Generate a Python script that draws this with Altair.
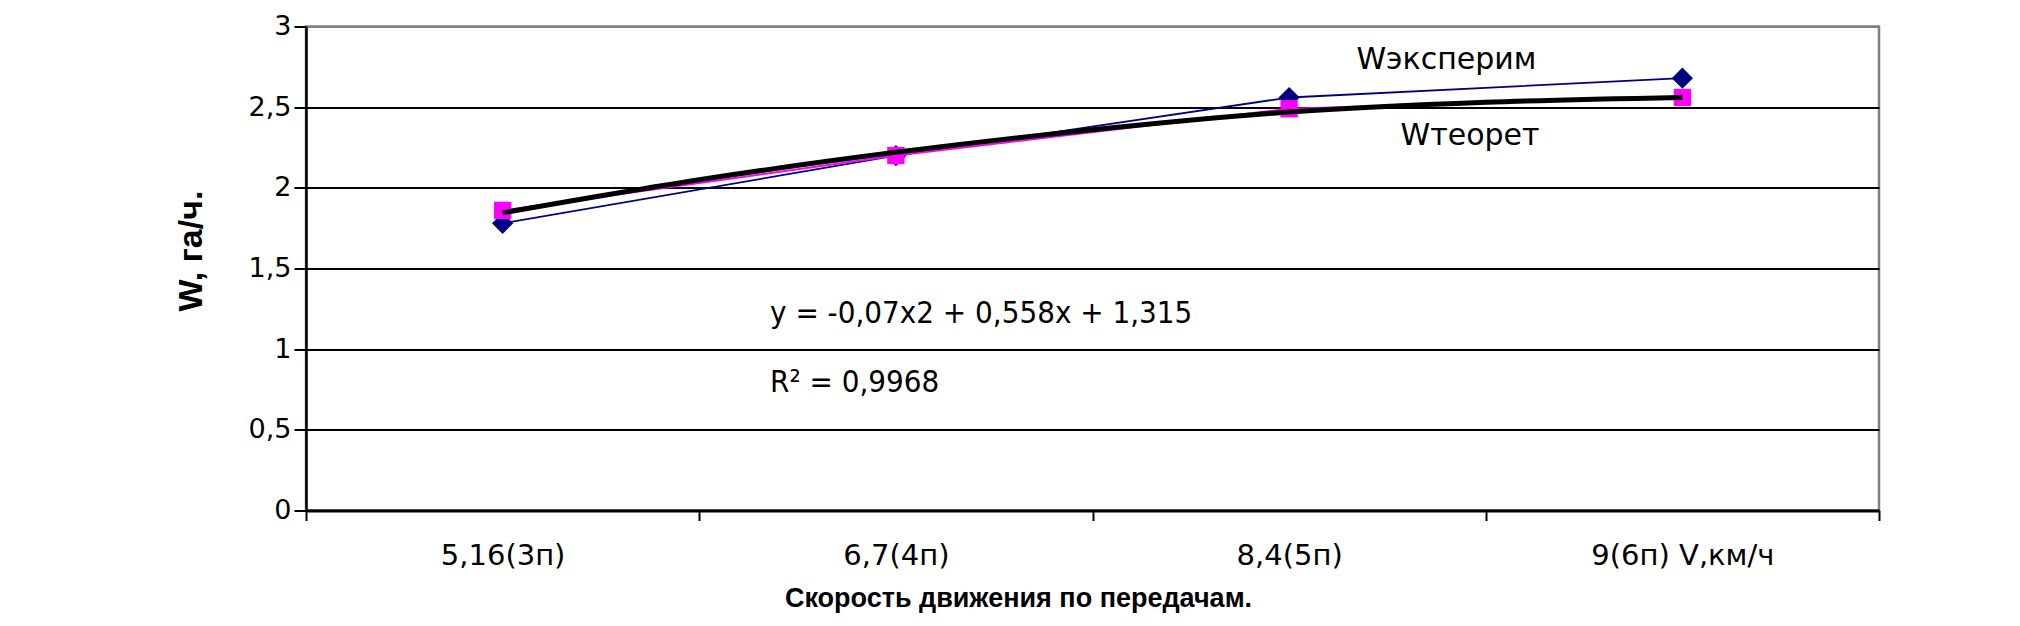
import json
import altair as alt
import pandas as pd

# ---- data ----
categories = ["5,16(3п)", "6,7(4п)", "8,4(5п)", "9(6п) V,км/ч"]
cat_pos = [1, 2, 3, 4]
w_exp = [1.78, 2.20, 2.56, 2.68]
w_teor = [1.86, 2.20, 2.49, 2.56]

trend_x = [1, 1.5, 2, 2.5, 3, 3.5, 4]
trend_y = [1.845, 2.05, 2.22, 2.36, 2.47, 2.53, 2.56]

label_text = ["Wэксперим", "Wтеорет"]
label_x = [3.40, 3.46]
label_y = [2.79, 2.32]

eq_text = ["y = -0,07x2 + 0,558x + 1,315", "R² = 0,9968"]
eq_x = [1.68, 1.68]
eq_y = [1.22, 0.79]

y_ticks = [0, 0.5, 1, 1.5, 2, 2.5, 3]
x_ticks = [0.5, 1, 1.5, 2, 2.5, 3, 3.5, 4, 4.5]

# ---- tables ----
df_exp = pd.DataFrame({"x": cat_pos, "y": w_exp})
df_teor = pd.DataFrame({"x": cat_pos, "y": w_teor})
df_trend = pd.DataFrame({"x": trend_x, "y": trend_y})
df_lab = pd.DataFrame({"x": label_x, "y": label_y, "t": label_text})
df_eq = pd.DataFrame({"x": eq_x, "y": eq_y, "t": eq_text})

cat_js = json.dumps(categories, ensure_ascii=False)

x_axis = alt.Axis(
    values=x_ticks,
    labelExpr=f"datum.value % 1 === 0 ? {cat_js}[datum.value - 1] : ''",
    labelOverlap=False,
    labelFlush=False,
    labelLimit=0,
    labelFont="DejaVu Sans",
    labelFontSize=29,
    labelColor="black",
    labelBaseline="middle",
    labelAlign="center",
    labelPadding=35,
    tickSize=10,
    tickWidth=2,
    tickColor="black",
    tickOpacity={"condition": {"test": "datum.value % 1 === 0", "value": 0}, "value": 1},
    domainColor="black",
    domainWidth=3,
    grid=False,
    title="Скорость движения по передачам.",
    titleFont="Liberation Sans",
    titleFontWeight="bold",
    titleFontSize=27,
    titleColor="black",
    titleLimit=0,
    titleX=712,
    titleY=88,
    titleBaseline="middle",
    titleAlign="center",
)

y_axis = alt.Axis(
    values=y_ticks,
    labelExpr="replace(toString(datum.value), '.', ',')",
    labelFont="DejaVu Sans",
    labelFontSize=27,
    labelColor="black",
    labelPadding=3,
    tickSize=12,
    tickWidth=2,
    tickColor="black",
    domainColor="black",
    domainWidth=2.5,
    grid=True,
    gridColor={"condition": {"test": "datum.value === 3", "value": "#808080"}, "value": "black"},
    gridWidth=2,
    gridOpacity=1,
    title="W, га/ч.",
    titleFont="Liberation Sans",
    titleFontWeight="bold",
    titleFontSize=34,
    titleColor="black",
    titleLimit=0,
    titleX=-115,
    titleY=224,
    titleBaseline="middle",
    titleAlign="center",
    titleAngle=270,
)

xs = alt.Scale(domain=[0.5, 4.5], nice=False, zero=False)
ys = alt.Scale(domain=[0, 3], nice=False, zero=True)

def enc(ch):
    return ch.encode(
        x=alt.X("x:Q", scale=xs, axis=x_axis),
        y=alt.Y("y:Q", scale=ys, axis=y_axis),
    )

exp_line = enc(alt.Chart(df_exp).mark_line(color="#000080", strokeWidth=1.8))
exp_pts = enc(alt.Chart(df_exp).mark_point(shape="diamond", filled=True, size=450,
                                           color="#000080", opacity=1))
teor_line = enc(alt.Chart(df_teor).mark_line(color="#FF00FF", strokeWidth=2))
teor_pts = enc(alt.Chart(df_teor).mark_point(shape="square", filled=True, size=300,
                                             color="#FF00FF", opacity=1))
trend = enc(alt.Chart(df_trend).mark_line(color="black", strokeWidth=5,
                                          interpolate="monotone"))
labels = enc(alt.Chart(df_lab).mark_text(font="DejaVu Sans", fontSize=30, color="black",
                                         align="center", baseline="middle")).encode(text="t:N")
eqs = enc(alt.Chart(df_eq).mark_text(font="DejaVu Sans Condensed, Roboto, sans-serif",
                                     fontSize=31, color="black",
                                     align="left", baseline="middle")).encode(text="t:N")

chart = alt.layer(exp_line, exp_pts, teor_line, teor_pts, trend, labels, eqs).properties(
    width=1573,
    height=484,
    autosize="none",
    padding={"left": 298, "top": 18.5, "right": 120, "bottom": 112},
    background="white",
).configure_view(stroke="#808080", strokeWidth=2.5)

chart.save("out.html", embed_options={"renderer": "svg", "actions": False})
